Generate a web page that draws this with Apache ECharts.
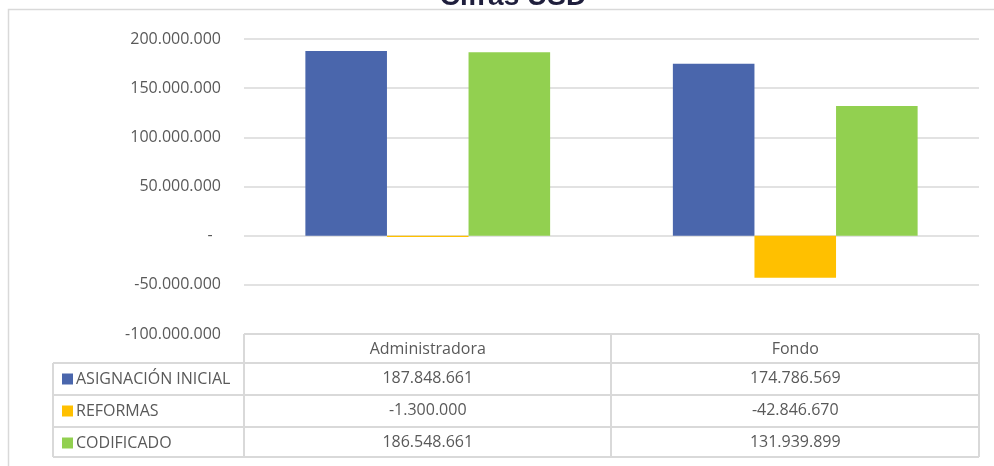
<!DOCTYPE html>
<html>
<head>
<meta charset="utf-8">
<title>Cifras USD</title>
<script src="https://cdn.jsdelivr.net/npm/echarts@6/dist/echarts.min.js"></script>
<style>
    html, body { margin: 0; padding: 0; background: #fff; }
    #chart { width: 994px; height: 466px; }
</style>
</head>
<body>
<div id="chart"></div>
<script>
// datos
const categories = ['Administradora', 'Fondo']
const seriesNames = ['ASIGNACIÓN INICIAL', 'REFORMAS', 'CODIFICADO']
const asignacionInicial = [187848661, 174786569]
const reformas = [-1300000, -42846670]
const codificado = [186548661, 131939899]
const colors = ['#4a66ac', '#ffc000', '#92d050']

const rows = [asignacionInicial, reformas, codificado]

// 187848661 -> 187.848.661
const fmt = v => {
    const s = String(Math.abs(v)).replace(/\B(?=(\d{3})+(?!\d))/g, '.')
    return v < 0 ? '-' + s : s
}

const font = '"Open Sans", "Noto Sans", sans-serif'
const gray = '#595959'
const lineColor = '#d9d9d9'

// layout de la tabla de datos
const tLeft = 53, tMid = 244, tSplit = 611, tRight = 979
const tTop = 334, rowLines = [363, 395, 427, 457]

const chart = echarts.init(document.getElementById('chart'))

// ejes extra que pintan las filas de valores
const rowAxes = rows.map((arr, i) => ({
    type: 'category',
    data: categories,
    position: 'bottom',
    axisLine: { show: false },
    axisTick: { show: false },
    splitLine: { show: false },
    axisLabel: {
        margin: 44 + i * 32.3,
        verticalAlign: 'middle',
        color: gray,
        fontFamily: font,
        fontSize: 16,
        formatter: (val, idx) => fmt(arr[idx])
    }
}))

const lines = []
const hline = (x1, x2, y) => lines.push({ type: 'line', shape: { x1, y1: y, x2, y2: y }, style: { stroke: lineColor, lineWidth: 2 }, silent: true })
const vline = (x, y1, y2) => lines.push({ type: 'line', shape: { x1: x, y1, x2: x, y2 }, style: { stroke: lineColor, lineWidth: 2 }, silent: true })
hline(tMid, tRight, tTop)
rowLines.forEach(y => hline(tLeft, tRight, y))
vline(tLeft, rowLines[0], rowLines[3])
vline(tMid, tTop, rowLines[3])
vline(tSplit, tTop, rowLines[3])
vline(tRight, tTop, rowLines[3])

const option = {
    animation: false,
    color: colors,
    title: {
        text: 'Cifras USD',
        left: 508,
        textAlign: 'center',
        top: -22,
        textStyle: { fontFamily: 'Liberation Sans, sans-serif', fontWeight: 'bold', fontSize: 28, color: '#1e1e3c' }
    },
    grid: { left: 244, right: 15, top: 39, bottom: 132 },
    legend: {
        orient: 'vertical',
        left: 62,
        top: 369,
        padding: 0,
        icon: 'rect',
        itemWidth: 11,
        itemHeight: 11,
        itemGap: 12,
        data: seriesNames,
        selectedMode: false,
        textStyle: { color: gray, fontFamily: font, fontSize: 16, lineHeight: 20, padding: [0, 0, 0, -2] }
    },
    xAxis: [{
        type: 'category',
        data: categories,
        position: 'bottom',
        axisLine: { show: false, onZero: false },
        axisTick: { show: false },
        axisLabel: { margin: 15, verticalAlign: 'middle', color: gray, fontFamily: font, fontSize: 16 }
    }].concat(rowAxes),
    yAxis: {
        type: 'value',
        min: -100000000,
        max: 200000000,
        interval: 50000000,
        axisLine: { show: false },
        axisTick: { show: false },
        splitLine: { lineStyle: { color: lineColor, width: 1.5 } },
        axisLabel: {
            margin: 23,
            color: gray,
            fontFamily: font,
            fontSize: 16,
            formatter: v => v === 0 ? '-  ' : fmt(v)
        }
    },
    series: seriesNames.map((name, i) => ({
        name,
        type: 'bar',
        data: rows[i],
        barGap: '0%',
        barCategoryGap: '33.4%'
    })),
    graphic: [{
        type: 'rect',
        shape: { x: 8.5, y: 9.5, width: 1000, height: 500 },
        style: { fill: null, stroke: lineColor, lineWidth: 1.5 },
        silent: true,
        z: -1
    }].concat(lines)
}

chart.setOption(option)
</script>
</body>
</html>
